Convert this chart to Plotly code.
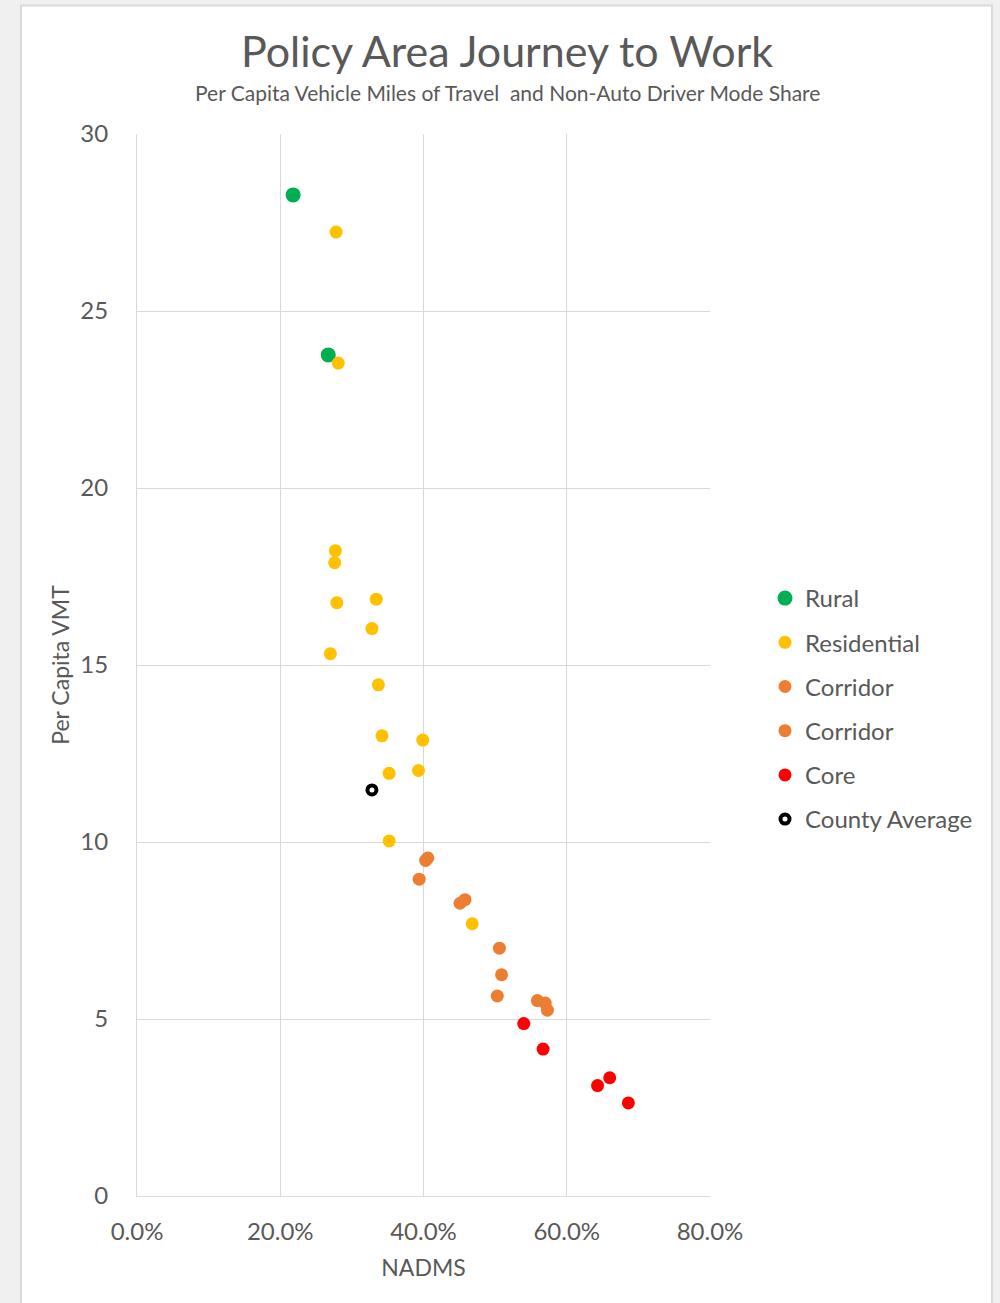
import plotly.graph_objects as go

# ---- data (NADMS share, per capita VMT) ----
rural_x = [0.218, 0.267]
rural_y = [28.28, 23.76]

residential_x = [0.278, 0.281, 0.277, 0.276, 0.279, 0.334, 0.328, 0.270, 0.337,
                 0.342, 0.399, 0.352, 0.393, 0.352, 0.468]
residential_y = [27.23, 23.53, 18.23, 17.89, 16.76, 16.86, 16.03, 15.32, 14.44,
                 13.00, 12.88, 11.94, 12.02, 10.03, 7.69]

corridor1_x = [0.403, 0.406, 0.394, 0.451, 0.458]
corridor1_y = [9.48, 9.55, 8.95, 8.27, 8.37]

corridor2_x = [0.506, 0.509, 0.503, 0.559, 0.570, 0.573]
corridor2_y = [7.00, 6.25, 5.65, 5.52, 5.45, 5.25]

core_x = [0.540, 0.567, 0.643, 0.660, 0.686]
core_y = [4.87, 4.15, 3.12, 3.34, 2.63]

county_x = [0.328]
county_y = [11.47]

x_ticks = [0, 0.2, 0.4, 0.6, 0.8]
y_ticks = [0, 5, 10, 15, 20, 25, 30]

FONT = "Lato"
GREY_TXT = "#595959"

fig = go.Figure()

def add(name, xs, ys, color, size, group, line=None):
    fig.add_trace(go.Scatter(
        x=xs, y=ys, mode="markers", name=name, legendgroup=group,
        marker=dict(color=color, size=size,
                    line=line if line else dict(width=0)),
    ))

add("Rural", rural_x, rural_y, "#00B050", 15, "g1")
add("Residential", residential_x, residential_y, "#FFC000", 13, "g2")
add("Corridor", corridor1_x, corridor1_y, "#ED7D31", 13, "g3")
add("Corridor", corridor2_x, corridor2_y, "#ED7D31", 13, "g4")
add("Core", core_x, core_y, "#FF0000", 13, "g5")
add("County Average", county_x, county_y, "#FFFFFF", 9, "g6",
    line=dict(color="#000000", width=4))

# plot area: x 137..710, y 134..1196 px
L, R, T, B = 137, 1000 - 710, 134, 1303 - 1196
PW, PH = 710 - 137, 1196 - 134

def px(x):
    return (x - L) / PW

def py(y):
    return (1196 - y) / PH

fig.add_shape(type="rect", xref="paper", yref="paper",
              x0=px(21), x1=px(992), y0=py(1320), y1=py(5.5),
              fillcolor="white", line=dict(color="#d9d9d9", width=2),
              layer="below")

fig.add_annotation(text="Policy Area Journey to Work", xref="paper", yref="paper",
                   x=px(507), y=py(50), showarrow=False, xanchor="center", yanchor="middle",
                   font=dict(family=FONT, size=43, color=GREY_TXT))
fig.add_annotation(text="Per Capita Vehicle Miles of Travel  and Non-Auto Driver Mode Share",
                   xref="paper", yref="paper",
                   x=px(507), y=py(92), showarrow=False, xanchor="center", yanchor="middle",
                   font=dict(family=FONT, size=21, color=GREY_TXT))

fig.update_layout(
    width=1000, height=1303,
    margin=dict(l=L, r=R, t=T, b=B, pad=0),
    paper_bgcolor="#f0f0f0",
    plot_bgcolor="rgba(0,0,0,0)",
    font=dict(family=FONT, color=GREY_TXT),
    showlegend=True,
    legend=dict(x=px(765), y=py(576), xanchor="left", yanchor="top",
                font=dict(family=FONT, size=24, color=GREY_TXT),
                bgcolor="rgba(0,0,0,0)", tracegroupgap=10,
                traceorder="grouped", itemsizing="trace"),
)

fig.update_xaxes(
    range=[0, 0.8], tickvals=x_ticks, tickformat=".1%",
    showgrid=True, gridcolor="#d9d9d9", gridwidth=1, zeroline=False,
    showline=True, linecolor="#d9d9d9", linewidth=1, mirror=False,
    ticks="", ticklabelstandoff=14,
    tickfont=dict(family=FONT, size=24, color=GREY_TXT),
    title=dict(text="NADMS", font=dict(family=FONT, size=23, color=GREY_TXT), standoff=16),
)
fig.update_yaxes(
    range=[0, 30], tickvals=y_ticks,
    showgrid=True, gridcolor="#d9d9d9", gridwidth=1, zeroline=False,
    showline=True, linecolor="#d9d9d9", linewidth=1,
    ticks="", ticklabelstandoff=23,
    tickfont=dict(family=FONT, size=24, color=GREY_TXT),
    title=dict(text="Per Capita VMT", font=dict(family=FONT, size=23, color=GREY_TXT), standoff=4),
)

fig.write_html("out.html", config={"displayModeBar": False},
               post_script="document.body.style.margin='0';document.body.style.padding='0';")
